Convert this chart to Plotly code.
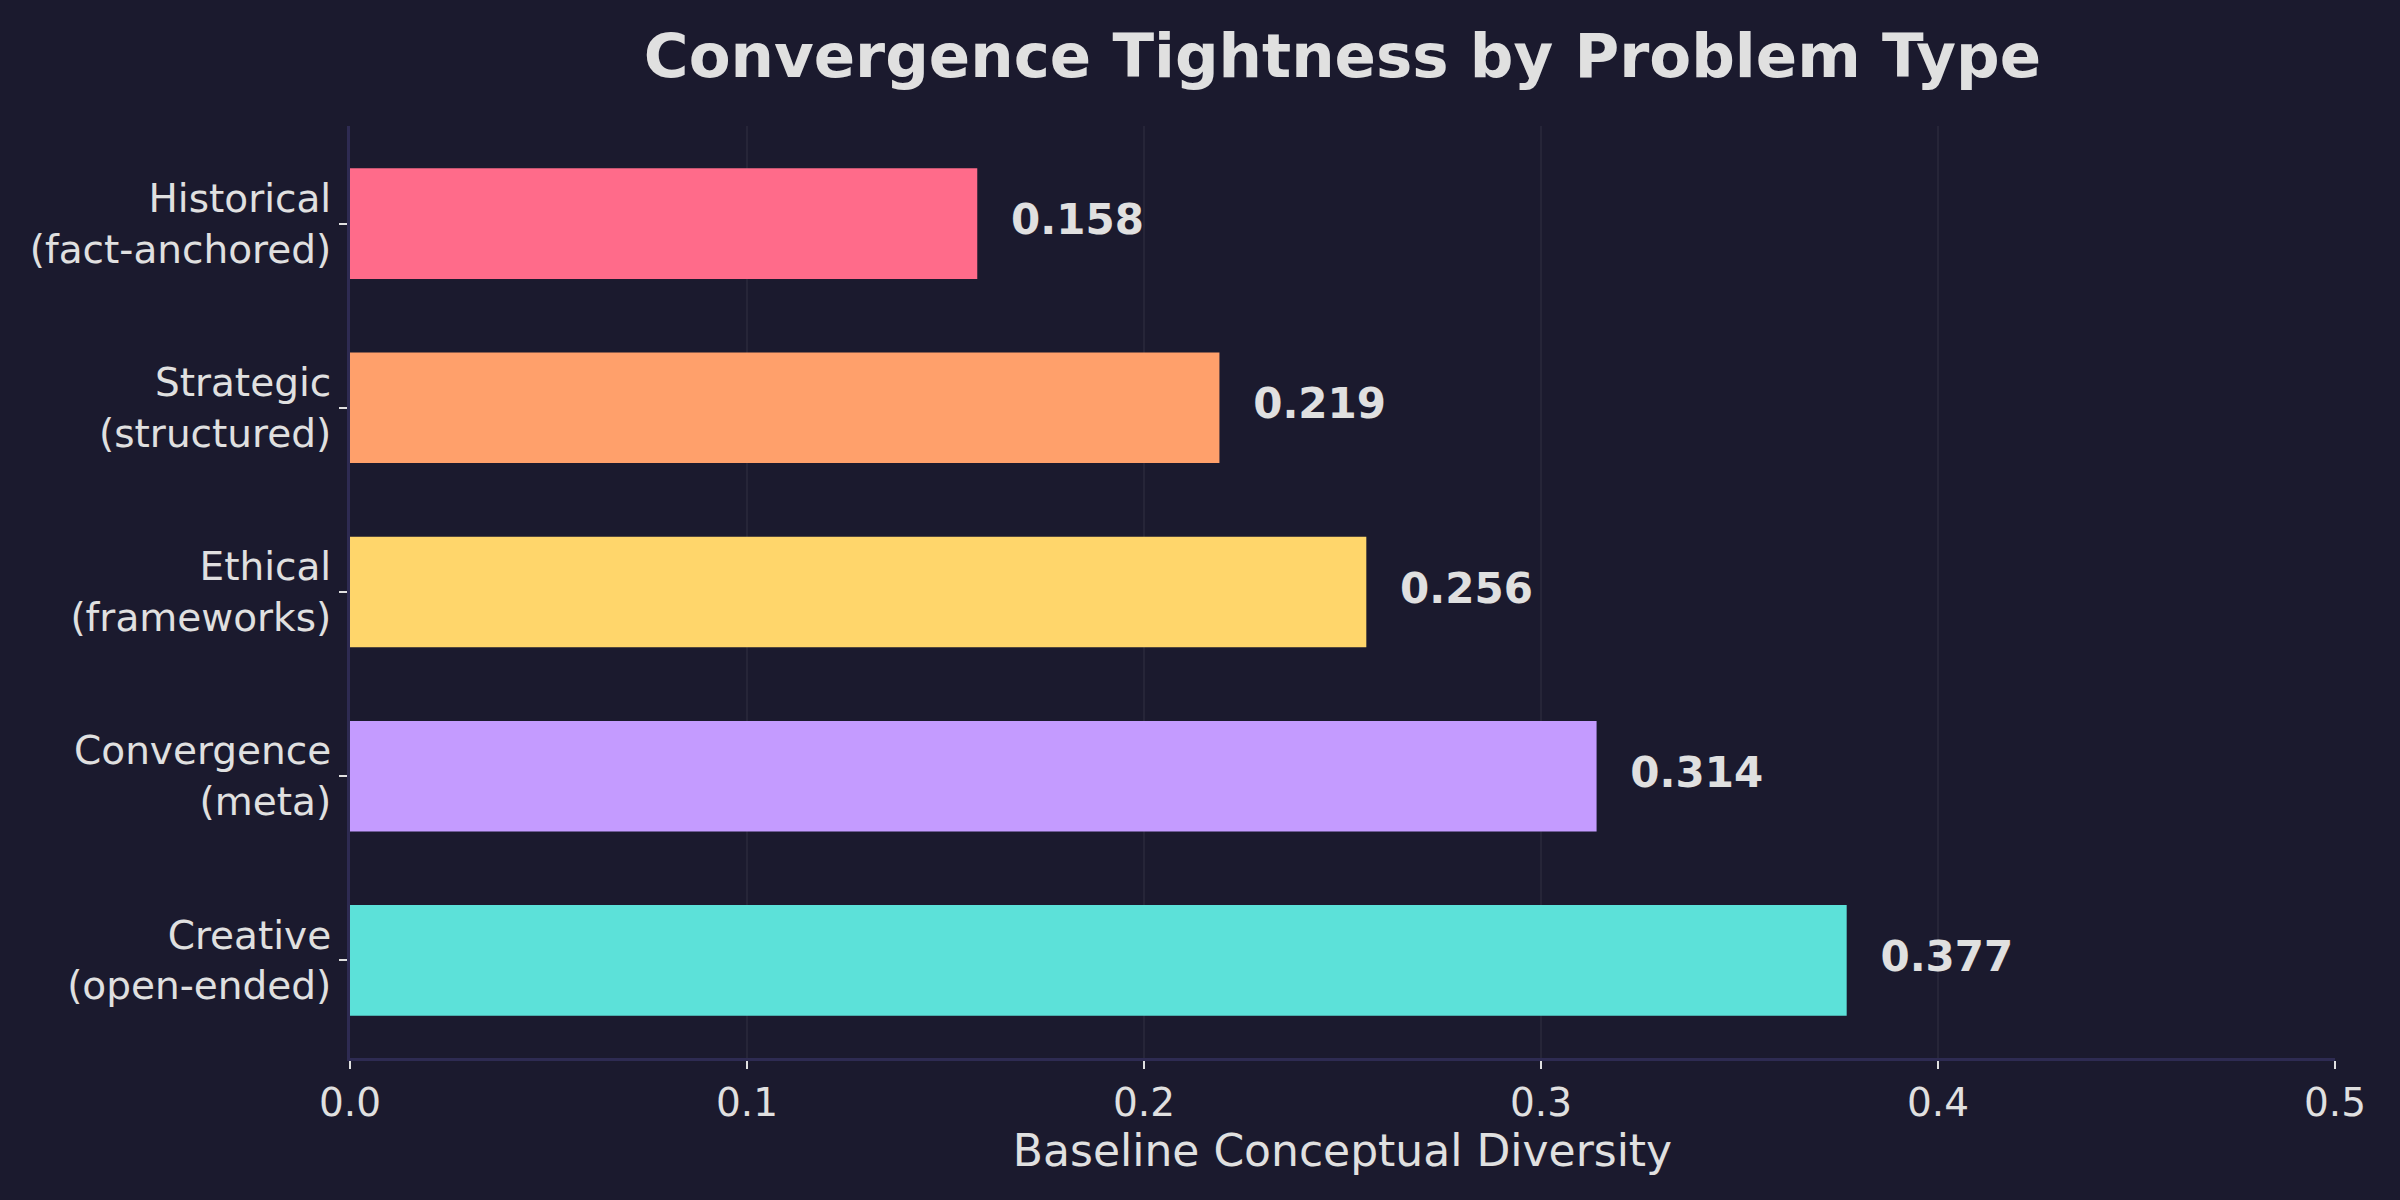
import plotly.graph_objects as go

# data (top to bottom)
categories = [
    "Historical<br>(fact-anchored)",
    "Strategic<br>(structured)",
    "Ethical<br>(frameworks)",
    "Convergence<br>(meta)",
    "Creative<br>(open-ended)",
]
diversity = [0.158, 0.219, 0.256, 0.314, 0.377]
bar_colors = ["#ff6b8a", "#ffa06b", "#ffd66b", "#c49bff", "#5ce1d9"]
x_ticks = [0.0, 0.1, 0.2, 0.3, 0.4, 0.5]

BG = "#1b1a2e"
TXT = "#e0e0e0"
SPINE = "#2e2b52"
FONT = "DejaVu Sans"

fig = go.Figure()

fig.add_trace(go.Bar(
    x=diversity,
    y=categories,
    orientation="h",
    width=0.6,
    marker=dict(color=bar_colors, line=dict(width=0)),
    hoverinfo="x+y",
    showlegend=False,
))

# value labels just to the right of each bar
fig.add_trace(go.Scatter(
    x=[v + 0.0085 for v in diversity],
    y=categories,
    mode="text",
    text=[f"<b>{v:.3f}</b>" for v in diversity],
    textposition="middle right",
    textfont=dict(family=FONT, size=42, color=TXT),
    hoverinfo="skip",
    showlegend=False,
))

fig.update_layout(
    width=2400,
    height=1200,
    paper_bgcolor=BG,
    plot_bgcolor=BG,
    margin=dict(l=350, r=65, t=126, b=142),
    font=dict(family=FONT, color=TXT, size=39),
    title=dict(
        text="<b>Convergence Tightness by Problem Type</b>",
        font=dict(family=FONT, size=61, color=TXT),
        x=0.5, xref="paper", xanchor="center",
        y=1 - 56 / 1200, yref="container", yanchor="middle",
    ),
)

fig.update_xaxes(
    range=[0, 0.5],
    tickvals=x_ticks,
    ticktext=[f"{t:.1f}" for t in x_ticks],
    ticks="outside", ticklen=8, tickwidth=2, tickcolor=TXT,
    tickfont=dict(family=FONT, size=39, color=TXT),
    showgrid=True, gridcolor="rgba(255,255,255,0.05)", gridwidth=1.5,
    showline=True, linecolor=SPINE, linewidth=3,
    zeroline=False,
    title=dict(text="Baseline Conceptual Diversity",
               font=dict(family=FONT, size=44, color=TXT), standoff=4),
)

fig.update_yaxes(
    type="category",
    categoryorder="array", categoryarray=categories,
    range=[4.53, -0.53],
    ticks="outside", ticklen=8, tickwidth=2, tickcolor=TXT,
    tickfont=dict(family=FONT, size=39, color=TXT),
    showgrid=False,
    showline=True, linecolor=SPINE, linewidth=3,
    zeroline=False,
)

# drop the browser's default body margin so the figure sits flush
fig.write_html(
    "out.html",
    config={"displayModeBar": False},
    post_script="document.body.style.margin='0px';"
                "document.body.style.background='" + BG + "';",
)
